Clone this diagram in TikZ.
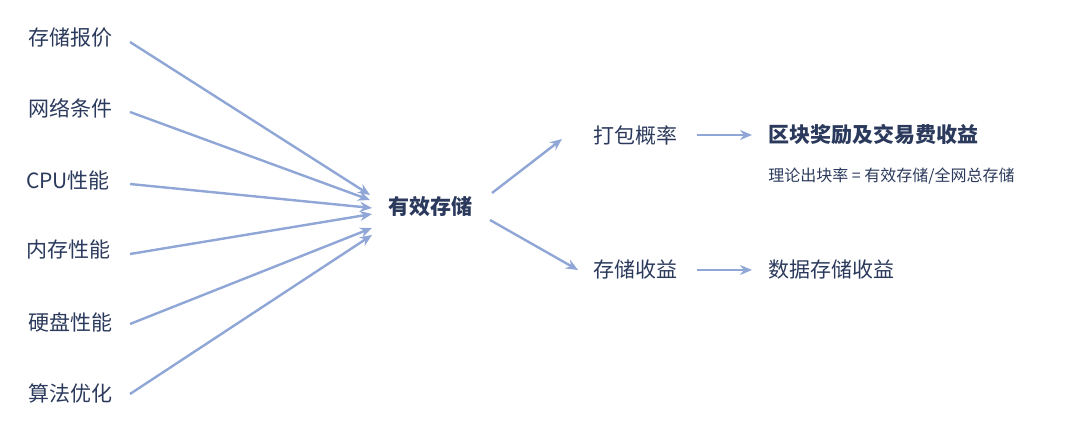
\documentclass[tikz,border=0pt]{standalone}
\usepackage{fontspec}
\setmainfont{Noto Sans CJK SC}
\usetikzlibrary{arrows.meta}
\definecolor{arr}{HTML}{8FA6D6}
\definecolor{txt}{HTML}{2B3A5C}
\begin{document}
\begin{tikzpicture}[x=0.5pt,y=-0.5pt,
  lbl/.style={text=txt,font=\fontsize{10.5}{12}\selectfont,inner sep=0pt},
  bl/.style={text=txt,font=\fontsize{10.5}{12}\selectfont\bfseries,inner sep=0pt},
  con/.style={draw=arr,line width=1.2pt,-{Stealth[length=6pt,width=5pt]}}]
\useasboundingbox (0,0) rectangle (1080,427);
\node[lbl] (l1) at (70,38) {存储报价};
\node[lbl] (l2) at (70,108) {网络条件};
\node[lbl] (l3) at (68,180) {CPU性能};
\node[lbl] (l4) at (68,250) {内存性能};
\node[lbl] (l5) at (70,322) {硬盘性能};
\node[lbl] (l6) at (70,393) {算法优化};
\node[bl] (c) at (430,207) {有效存储};
\node[lbl] (p) at (635,135) {打包概率};
\node[lbl] (s) at (635,270) {存储收益};
\node[bl,anchor=west] (r1) at (768,135) {区块奖励及交易费收益};
\node[lbl,anchor=west,font=\fontsize{8}{10}\selectfont] (f) at (768,176) {理论出块率 = 有效存储/全网总存储};
\node[lbl,anchor=west] (r2) at (768,270) {数据存储收益};
\foreach \i/\sy/\ex/\ey in {1/42/370/195,2/112/370/200,3/184/372/208,4/254/372/214,5/324/372/228,6/394/372/235}{
  \coordinate (a\i) at (130,\sy);
  \coordinate (b\i) at (\ex,\ey);
  \draw[con] (a\i) -- (b\i);
}
\coordinate (u0) at (492,193); \coordinate (u1) at (562,139);
\coordinate (d0) at (490,220); \coordinate (d1) at (578,270);
\draw[con] (u0) -- (u1);
\draw[con] (d0) -- (d1);
\coordinate (pa) at (697,135); \coordinate (pb) at (752,135);
\coordinate (sa) at (697,270); \coordinate (sb) at (752,270);
\draw[con] (pa) -- (pb);
\draw[con] (sa) -- (sb);
\end{tikzpicture}
\end{document}
